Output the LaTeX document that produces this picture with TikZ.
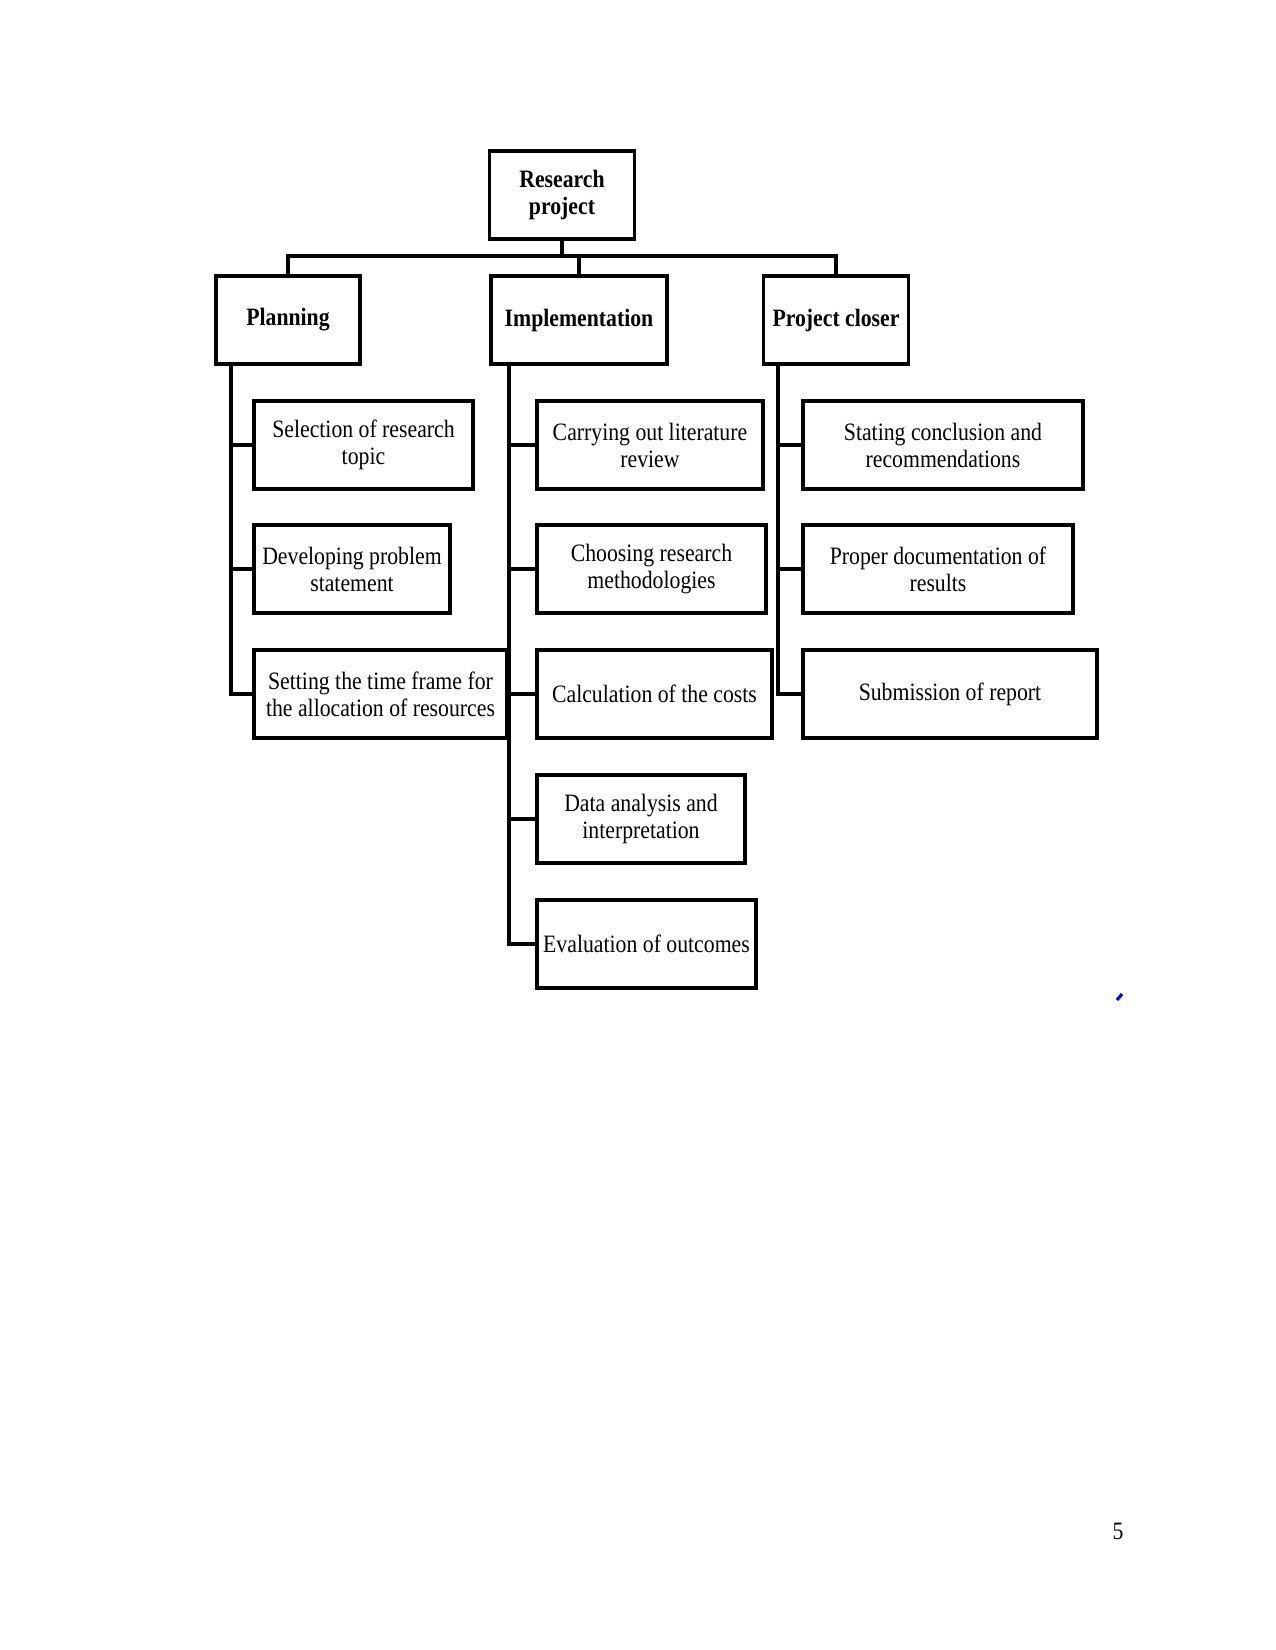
\documentclass[tikz,border=0pt]{standalone}
\usepackage{fontspec}
\setmainfont[FakeStretch=0.87]{Liberation Serif}
\usetikzlibrary{positioning}
\tikzset{
box/.style={
draw,
line width=1.9pt,
minimum height=88*0.48pt,
inner sep=1pt,
align=center,
font=\fontsize{12}{13}\selectfont
},
head/.style={
box,
font=\fontsize{12}{13}\selectfont\bfseries
},
bw/.style={
minimum width=#1*0.48pt
},
link/.style={
line width=1.6pt,
line join=miter
}
}

\begin{document}
\begin{tikzpicture}[x=0.48pt,y=-0.48pt]
\useasboundingbox (0,0) rectangle (1275,1650);

% top level
\node[head,bw=145](root) at (562,195){Research\\project};
\node[head,bw=144](plan) at (288,320){Planning};
\node[head,bw=176](impl) at (579,320){Implementation};
\node[head,bw=145](close) at (836,320){Project closer};

% planning
\node[box,bw=219,anchor=west](p1) at (252,445){Selection of research\\topic};
\node[box,bw=196,anchor=west](p2) at (252,569){Developing problem\\statement};
\node[box,bw=253,anchor=west](p3) at (252,694){Setting the time frame for\\the allocation of resources};

% implementation
\node[box,bw=226,anchor=west](i1) at (535,445){Carrying out literature\\review};
\node[box,bw=229,anchor=west](i2) at (535,569){Choosing research\\methodologies};
\node[box,bw=235,anchor=west](i3) at (535,694){Calculation of the costs};
\node[box,bw=208,anchor=west](i4) at (535,819){Data analysis and\\interpretation};
\node[box,bw=219,anchor=west](i5) at (535,944){Evaluation of outcomes};

% project closer
\node[box,bw=280,anchor=west](c1) at (801,445){Stating conclusion and\\recommendations};
\node[box,bw=270,anchor=west](c2) at (801,569){Proper documentation of\\results};
\node[box,bw=294,anchor=west](c3) at (801,694){Submission of report};

% bus
\coordinate (bus) at (0,256);
\draw[link](root.south)--(root.south |- bus);
\draw[link](plan.north)--(plan.north |- bus)--(close.north |- bus)--(close.north);
\draw[link](impl.north |- bus)--(impl.north);

% spines
\coordinate (ps) at (231,364);
\coordinate (is) at (509,364);
\coordinate (cs) at (778,364);
\foreach \x in {p1,p2,p3}
\draw[link](ps)|-(\x.west);
\foreach \x in {i1,i2,i3,i4,i5}
\draw[link](is)|-(\x.west);
\foreach \x in {c1,c2,c3}
\draw[link](cs)|-(\x.west);

\draw[blue,line width=1.5pt](1117,1000)--(1122,994);

\node[font=\fontsize{12}{13}\selectfont](pg) at (1118,1531){5};

\end{tikzpicture}
\end{document}
